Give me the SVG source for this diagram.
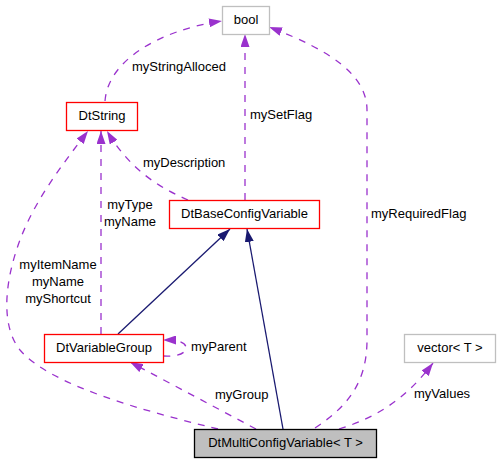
<svg xmlns="http://www.w3.org/2000/svg" width="500" height="464" viewBox="0 0 500 464">
<style>
text{font-family:"Liberation Sans",Arial,sans-serif;font-size:13px;fill:#000}
.n{text-anchor:middle}
.red{fill:#fff;stroke:#ff0000;stroke-width:1.3}
.gry{fill:#fff;stroke:#bfbfbf;stroke-width:1.3}
.cur{fill:#bfbfbf;stroke:#000;stroke-width:1.3}
.use{fill:none;stroke:#9a32cd;stroke-width:1.3;stroke-dasharray:7,7;marker-end:url(#ap)}
.inh{fill:none;stroke:#191970;stroke-width:1.3;marker-end:url(#an)}
</style>
<defs>
<marker id="ap" viewBox="0 0 13 9" refX="13" refY="4.5" markerWidth="13" markerHeight="9" markerUnits="userSpaceOnUse" orient="auto">
<path d="M0,0 L13,4.5 L0,9 Z" fill="#9a32cd"/>
</marker>
<marker id="an" viewBox="0 0 13 9" refX="13" refY="4.5" markerWidth="13" markerHeight="9" markerUnits="userSpaceOnUse" orient="auto">
<path d="M0,0 L13,4.5 L0,9 Z" fill="#191970"/>
</marker>
</defs>
<g id="edges">
<path class="use" d="M105,101 C108,60 160,30 222,21"/>
<path class="use" d="M245,200 L245,34"/>
<path class="use" d="M188,200 C160,188 130,170 107,131"/>
<path class="use" d="M101,334 L101,131"/>
<path class="use" d="M218,429 C140,410 50,385 20,350 C0,325 5,280 20,240 C35,200 62,165 88,131"/>
<path class="use" d="M163,356 C178,357 186,353 186,348 C186,343 180,340 163,340"/>
<path class="use" d="M256,429 L130,362"/>
<path class="inh" d="M118,334 L230,229"/>
<path class="inh" d="M283,429 L247,229"/>
<path class="use" d="M315,428 C345,408 367,385 367,340 L367,110 C367,75 330,50 269,27"/>
<path class="use" d="M339,429 C375,418 405,400 433,363"/>
<text x="132" y="71">myStringAlloced</text>
<text x="250" y="119">mySetFlag</text>
<text x="143" y="167">myDescription</text>
<text class="n" x="130" y="209">myType</text>
<text class="n" x="130" y="226">myName</text>
<text class="n" x="58" y="269">myItemName</text>
<text class="n" x="58" y="286">myName</text>
<text class="n" x="58" y="303">myShortcut</text>
<text x="191" y="351">myParent</text>
<text x="215" y="399">myGroup</text>
<text x="371" y="218">myRequiredFlag</text>
<text x="414" y="398">myValues</text>
</g>
<g id="bool"><rect class="gry" x="222.5" y="6.5" width="47" height="28"/><text class="n" x="246" y="24">bool</text></g>
<g id="DtString"><rect class="red" x="66.5" y="102.5" width="71" height="28"/><text class="n" x="102" y="120">DtString</text></g>
<g id="DtBaseConfigVariable"><rect class="red" x="169.5" y="200.5" width="150" height="28"/><text class="n" x="244.5" y="218">DtBaseConfigVariable</text></g>
<g id="DtVariableGroup"><rect class="red" x="44.5" y="334.5" width="119" height="28"/><text class="n" x="104" y="352">DtVariableGroup</text></g>
<g id="vector"><rect class="gry" x="404.5" y="334.5" width="91" height="28"/><text class="n" x="450" y="352">vector&lt; T &gt;</text></g>
<g id="DtMultiConfigVariable"><rect class="cur" x="194.5" y="429.5" width="182" height="28"/><text class="n" x="285.5" y="447">DtMultiConfigVariable&lt; T &gt;</text></g>
</svg>
